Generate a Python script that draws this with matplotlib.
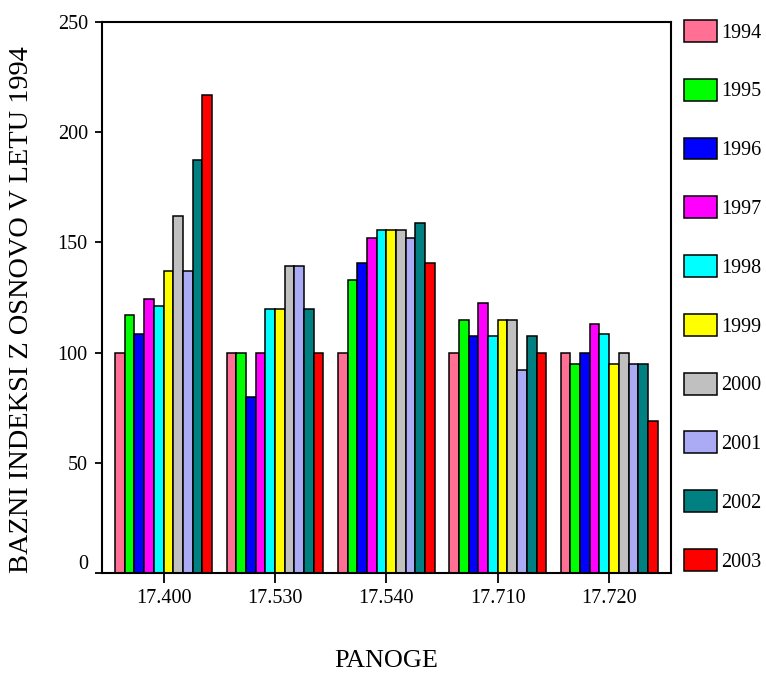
import matplotlib
matplotlib.use("Agg")
import matplotlib.pyplot as plt
import matplotlib.transforms as mtransforms
import numpy as np

plt.rcParams['font.family'] = ['Liberation Serif', 'DejaVu Serif']

panoge = ["17.400", "17.530", "17.540", "17.710", "17.720"]
years = ["1994", "1995", "1996", "1997", "1998", "1999", "2000", "2001", "2002", "2003"]

idx_1994 = [100, 100, 100, 100, 100]
idx_1995 = [117, 100, 133, 115, 95]
idx_1996 = [108.5, 80, 140.5, 107.5, 100]
idx_1997 = [124.5, 100, 152, 122.5, 113]
idx_1998 = [121, 120, 155.5, 107.5, 108.5]
idx_1999 = [137, 120, 155.5, 115, 95]
idx_2000 = [162, 139.5, 155.5, 115, 100]
idx_2001 = [137, 139.5, 152, 92, 95]
idx_2002 = [187.5, 120, 159, 107.5, 95]
idx_2003 = [217, 100, 140.5, 100, 69]

series = [idx_1994, idx_1995, idx_1996, idx_1997, idx_1998,
          idx_1999, idx_2000, idx_2001, idx_2002, idx_2003]

colors = ["#FF7094", "#00FF00", "#0000FF", "#FF00FF", "#00FFFF",
          "#FFFF00", "#C0C0C0", "#ABABF5", "#008080", "#FF0000"]

fig = plt.figure(figsize=(7.66, 6.73), dpi=100)
ax = fig.add_axes([0.1328, 0.1486, 0.876 - 0.1328, 0.9673 - 0.1486])

n = len(series)
bw = 0.087
x = np.arange(len(panoge))
handles = []
for i, (vals, col, yr) in enumerate(zip(series, colors, years)):
    offs = (i - (n - 1) / 2) * bw
    b = ax.bar(x + offs, vals, width=bw, color=col, edgecolor="black",
               linewidth=1.1, label=yr)
    handles.append(b)

ax.set_xlim(-0.555, len(panoge) - 1 + 0.555)
ax.set_ylim(0, 250)
ax.set_yticks([0, 50, 100, 150, 200, 250])
ax.set_xticks(x)
ax.set_xticklabels(panoge)

for s in ax.spines.values():
    s.set_linewidth(1.5)

ax.tick_params(axis='y', direction='out', length=5, width=1.3, pad=5, labelsize=14.5)
ax.tick_params(axis='x', direction='out', length=7, width=1.3, pad=4.5, labelsize=14.5)

# lift the "0" label a little off the horizontal axis
lbl0 = ax.get_yticklabels()[0]
lbl0.set_transform(lbl0.get_transform() + mtransforms.ScaledTranslation(0, 11 / 100, fig.dpi_scale_trans))

fig.text(22 / 766, 1 - 310 / 673, "BAZNI INDEKSI Z OSNOVO V LETU 1994",
         rotation=90, ha="center", va="center", fontsize=20.4)
fig.text(386 / 766, 1 - 661 / 673, "PANOGE", ha="center", va="center", fontsize=18.8)

leg = fig.legend(handles=handles, labels=years, loc="upper left",
                 bbox_to_anchor=(684 / 766, 1 - 20 / 673),
                 frameon=False, fontsize=14.5, handlelength=1.64,
                 handleheight=1.3, labelspacing=1.79, handletextpad=0.2,
                 borderpad=0, borderaxespad=0)

fig.savefig("out.png", dpi=100)
